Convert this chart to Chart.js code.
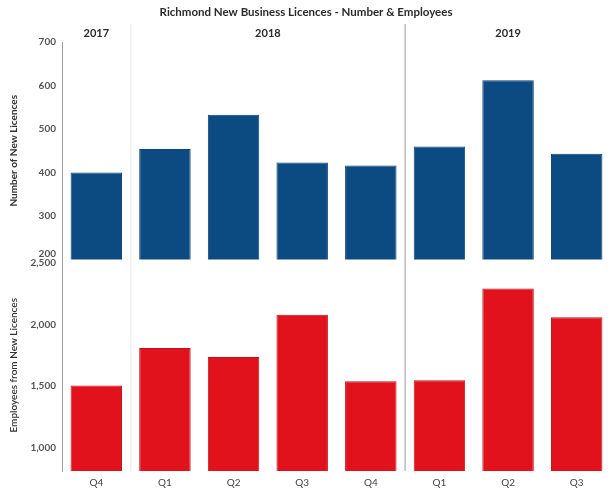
<!DOCTYPE html>
<html>
<head>
<meta charset="utf-8">
<script src="https://cdn.jsdelivr.net/npm/chart.js@4.4.1/dist/chart.umd.min.js"></script>
<style>
  html, body { margin: 0; padding: 0; background: #fff; }
  #wrap { width: 611px; height: 493px; position: relative; }
</style>
</head>
<body>
<div id="wrap"><canvas id="js-chart-licences" width="611" height="493"></canvas></div>
<script>
// Chart data
const quarters = ['Q4', 'Q1', 'Q2', 'Q3', 'Q4', 'Q1', 'Q2', 'Q3'];
const years = ['2017', '2018', '2019'];
const yearFirstIndex = [0, 1, 5];
const yearLastIndex = [0, 4, 7];
const licences = [400, 454, 533, 423, 416, 460, 612, 443];
const employees = [1505, 1810, 1738, 2080, 1540, 1548, 2295, 2060];
const licenceTicks = [200, 300, 400, 500, 600, 700];
const employeeTicks = [1000, 1500, 2000, 2500];

const fontFamily = 'Lato, "Open Sans", sans-serif';
const blue = '#0c4b82';
const red = '#e1121c';

// Title, year headings and year separators
const yearPlugin = {
  id: 'yearHeadings',
  afterDatasetsDraw(chart) {
    const ctx = chart.ctx;
    const x = chart.scales.x;
    const area = chart.chartArea;
    ctx.save();

    // separators between years
    for (let i = 1; i < years.length; i++) {
      const sx = (x.getPixelForValue(yearLastIndex[i - 1]) + x.getPixelForValue(yearFirstIndex[i])) / 2;
      ctx.beginPath();
      ctx.lineWidth = 1.5;
      ctx.strokeStyle = i === 1 ? 'rgba(0,0,0,.06)' : '#bdbdbd';
      ctx.moveTo(sx, 24);
      ctx.lineTo(sx, area.bottom);
      ctx.stroke();
    }

    // year headings
    ctx.fillStyle = '#2b2b2b';
    ctx.font = 'bold 11px ' + fontFamily;
    ctx.textAlign = 'center';
    ctx.textBaseline = 'middle';
    years.forEach((y, i) => {
      const cx = (x.getPixelForValue(yearFirstIndex[i]) + x.getPixelForValue(yearLastIndex[i])) / 2;
      ctx.fillText(y, cx, 33);
    });

    // chart title
    ctx.font = 'bold 11.5px ' + fontFamily;
    ctx.fillText('Richmond New Business Licences - Number & Employees', 306, 12);
    ctx.restore();
  }
};

let chartCon = document.getElementById('js-chart-licences');

let chartData = {
  labels: quarters,
  datasets: [
    {
      label: 'Number of New Licences',
      yAxisID: 'yLic',
      data: licences,
      backgroundColor: blue,
      borderColor: '#0a4175',
      borderWidth: 1,
      grouped: false,
      barPercentage: 0.75,
      categoryPercentage: 1
    },
    {
      label: 'Employees from New Licences',
      yAxisID: 'yEmp',
      data: employees,
      backgroundColor: red,
      borderColor: '#c01019',
      borderWidth: 1,
      grouped: false,
      barPercentage: 0.75,
      categoryPercentage: 1
    }
  ]
};

let chartOptions = {
  responsive: false,
  animation: false,
  devicePixelRatio: 1,
  layout: {
    padding: {top: 42, right: 0, bottom: 0, left: 0}
  },
  scales: {
    x: {
      afterFit: scale => { scale.height = 22; },
      grid: {display: false, drawTicks: false},
      border: {display: false},
      ticks: {color: '#444', padding: 6, font: {family: fontFamily, size: 10}}
    },
    yEmp: {
      type: 'linear',
      position: 'left',
      stack: 'rows',
      stackWeight: 209,
      min: 810,
      max: 2530,
      afterBuildTicks: scale => { scale.ticks = employeeTicks.map(v => ({value: v})); },
      afterFit: scale => { scale.width = 62; },
      grid: {display: false, drawTicks: false},
      border: {display: true, color: '#9a9a9a', width: 1},
      title: {
        display: true,
        text: 'Employees from New Licences',
        color: '#333',
        padding: {top: 8, bottom: 2},
        font: {family: fontFamily, size: 10, weight: '600'}
      },
      ticks: {
        autoSkip: false,
        color: '#555',
        padding: 6,
        font: {family: fontFamily, size: 10, weight: 'bold'},
        callback: v => v.toLocaleString('en-US')
      }
    },
    yLic: {
      type: 'linear',
      position: 'left',
      stack: 'rows',
      stackWeight: 215,
      min: 200,
      max: 700,
      afterBuildTicks: scale => { scale.ticks = licenceTicks.map(v => ({value: v})); },
      afterFit: scale => { scale.width = 62; },
      grid: {display: false, drawTicks: false},
      border: {display: true, color: '#9a9a9a', width: 1},
      title: {
        display: true,
        text: 'Number of New Licences',
        color: '#333',
        padding: {top: 8, bottom: 2},
        font: {family: fontFamily, size: 10, weight: 'bold'}
      },
      ticks: {
        autoSkip: false,
        color: '#555',
        padding: 6,
        font: {family: fontFamily, size: 10, weight: 'bold'},
        // lift the bottom label a little so it clears the 2,500 label below
        callback: v => (v === licenceTicks[0] ? [String(v), ''] : String(v))
      }
    }
  },
  plugins: {
    legend: {display: false},
    tooltip: {enabled: false}
  }
};

if (chartCon !== null) {
  new Chart(chartCon, {type: 'bar', data: chartData, options: chartOptions, plugins: [yearPlugin]});
}
</script>
</body>
</html>
